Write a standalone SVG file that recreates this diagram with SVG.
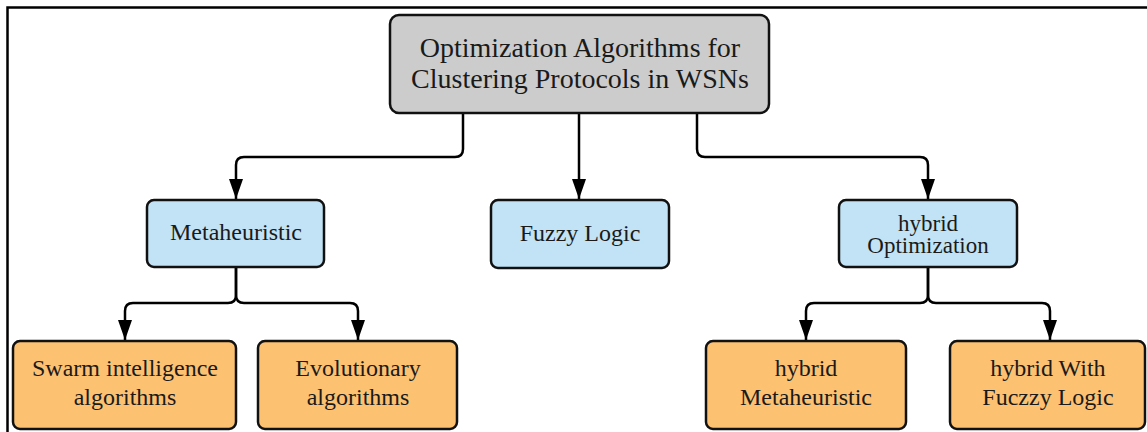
<svg xmlns="http://www.w3.org/2000/svg" width="1147" height="432" viewBox="0 0 1147 432">
  <defs>
    <marker id="arrow" viewBox="0 0 20 14" refX="20" refY="7" markerWidth="20" markerHeight="14" markerUnits="userSpaceOnUse" orient="auto">
      <path d="M0,0 L20,7 L0,14 Z" fill="#000"/>
    </marker>
    <style>
      .box { stroke: #111; stroke-width: 2.5; }
      .root { fill: #cccccc; }
      .mid { fill: #c2e3f5; }
      .leaf { fill: #fdc172; }
      .lbl { font-family: "Liberation Serif", "Times New Roman", serif; fill: #1a1a1a; text-anchor: middle; }
      .big { font-size: 28px; }
      .small { font-size: 24px; }
      .tight { font-size: 23px; }
      .link { fill: none; stroke: #000; stroke-width: 2.5; }
    </style>
  </defs>

  <rect width="1147" height="432" fill="#ffffff"/>
  <!-- frame -->
  <path d="M7.5,432 V7.5 H1147" fill="none" stroke="#000" stroke-width="2.5"/>

  <g id="connectors">
    <!-- root to second level -->
    <path class="link" d="M463,113 V149 Q463,157 455,157 H244 Q236,157 236,165 V199" marker-end="url(#arrow)"/>
    <path class="link" d="M579,113 V199" marker-end="url(#arrow)"/>
    <path class="link" d="M697,113 V149 Q697,157 705,157 H920 Q928,157 928,165 V199" marker-end="url(#arrow)"/>
    <!-- Metaheuristic branches -->
    <path class="link" d="M236,267 V295 Q236,303 228,303 H133 Q125,303 125,311 V340" marker-end="url(#arrow)"/>
    <path class="link" d="M236,267 V295 Q236,303 244,303 H350 Q358,303 358,311 V340" marker-end="url(#arrow)"/>
    <!-- hybrid Optimization branches -->
    <path class="link" d="M928,267 V295 Q928,303 920,303 H814 Q806,303 806,311 V340" marker-end="url(#arrow)"/>
    <path class="link" d="M928,267 V295 Q928,303 936,303 H1042 Q1050,303 1050,311 V340" marker-end="url(#arrow)"/>
  </g>

  <g id="root">
    <rect class="box root" x="390" y="15" width="379" height="98" rx="9"/>
    <text class="lbl big" x="580" y="57">Optimization Algorithms for</text>
    <text class="lbl big" x="580" y="88">Clustering Protocols in WSNs</text>
  </g>

  <g id="metaheuristic">
    <rect class="box mid" x="147" y="200" width="177" height="67" rx="7"/>
    <text class="lbl small" x="236" y="240">Metaheuristic</text>
  </g>

  <g id="fuzzy-logic">
    <rect class="box mid" x="491" y="200" width="178" height="68" rx="7"/>
    <text class="lbl small" x="580" y="241">Fuzzy Logic</text>
  </g>

  <g id="hybrid-optimization">
    <rect class="box mid" x="839" y="200" width="178" height="67" rx="7"/>
    <text class="lbl tight" x="928" y="231">hybrid</text>
    <text class="lbl tight" x="928" y="253">Optimization</text>
  </g>

  <g id="swarm">
    <rect class="box leaf" x="13" y="341" width="223" height="88" rx="7"/>
    <text class="lbl small" x="125" y="376">Swarm intelligence</text>
    <text class="lbl small" x="125" y="405">algorithms</text>
  </g>

  <g id="evolutionary">
    <rect class="box leaf" x="258" y="341" width="199" height="88" rx="7"/>
    <text class="lbl small" x="358" y="376">Evolutionary</text>
    <text class="lbl small" x="358" y="405">algorithms</text>
  </g>

  <g id="hybrid-metaheuristic">
    <rect class="box leaf" x="706" y="341" width="200" height="88" rx="7"/>
    <text class="lbl small" x="806" y="376">hybrid</text>
    <text class="lbl small" x="806" y="405">Metaheuristic</text>
  </g>

  <g id="hybrid-fuzzy">
    <rect class="box leaf" x="950" y="341" width="195" height="88" rx="7"/>
    <text class="lbl small" x="1048" y="376">hybrid With</text>
    <text class="lbl small" x="1048" y="405">Fuczzy Logic</text>
  </g>
</svg>
